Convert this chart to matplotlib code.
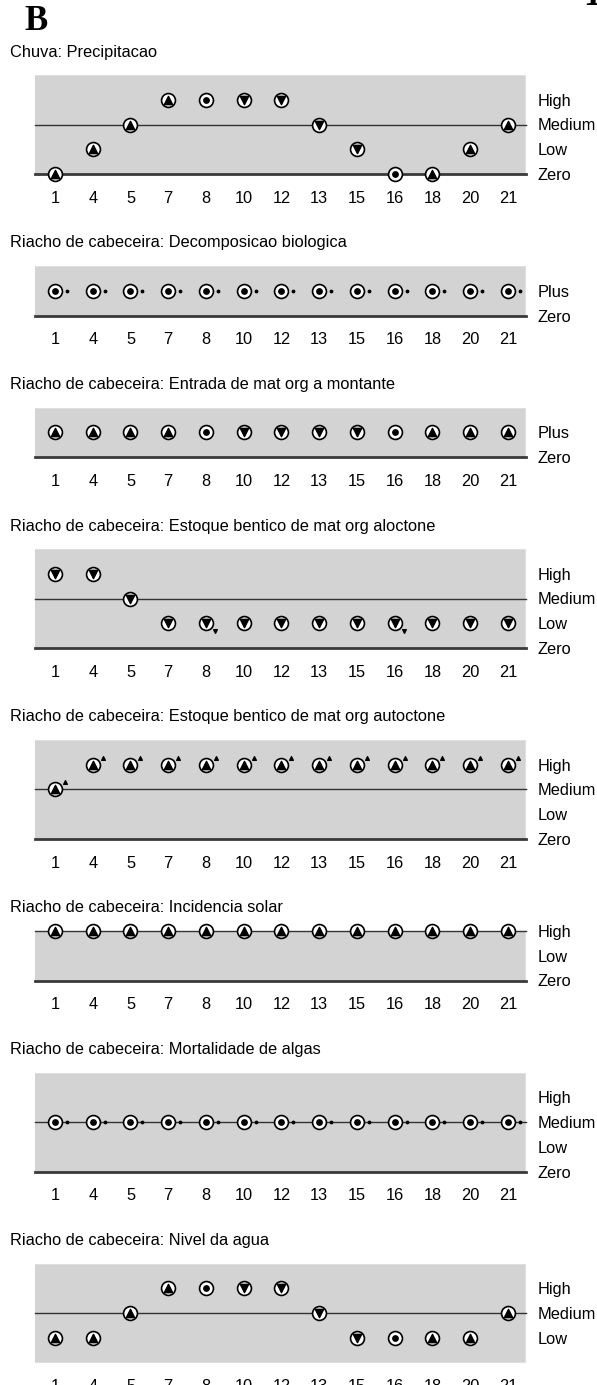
import matplotlib
matplotlib.use('Agg')
import matplotlib.pyplot as plt
from matplotlib.transforms import offset_copy

plt.rcParams['font.family'] = ['Liberation Sans', 'DejaVu Sans']

# estados da simulacao (eixo x)
states = ['1', '4', '5', '7', '8', '10', '12', '13', '15', '16', '18', '20', '21']

# espacos de quantidade (de baixo para cima)
qs_zlmh = ['Zero', 'Low', 'Medium', 'High']
qs_plus = ['Zero', 'Plus']
qs_zlh = ['Zero', 'Low', 'High']
qs_lmh = ['Low', 'Medium', 'High']

# Chuva: Precipitacao
chuva_val = ['Zero', 'Low', 'Medium', 'High', 'High', 'High', 'High',
             'Medium', 'Low', 'Zero', 'Zero', 'Low', 'Medium']
chuva_der = ['+', '+', '+', '+', '0', '-', '-', '-', '-', '0', '+', '+', '+']
chuva_d2 = ['', '', '', '', '', '', '', '', '', '', '', '', '']

# Decomposicao biologica
decomp_val = ['Plus', 'Plus', 'Plus', 'Plus', 'Plus', 'Plus', 'Plus',
              'Plus', 'Plus', 'Plus', 'Plus', 'Plus', 'Plus']
decomp_der = ['0', '0', '0', '0', '0', '0', '0', '0', '0', '0', '0', '0', '0']
decomp_d2 = ['0', '0', '0', '0', '0', '0', '0', '0', '0', '0', '0', '0', '0']

# Entrada de mat org a montante
entrada_val = ['Plus', 'Plus', 'Plus', 'Plus', 'Plus', 'Plus', 'Plus',
               'Plus', 'Plus', 'Plus', 'Plus', 'Plus', 'Plus']
entrada_der = ['+', '+', '+', '+', '0', '-', '-', '-', '-', '0', '+', '+', '+']
entrada_d2 = ['', '', '', '', '', '', '', '', '', '', '', '', '']

# Estoque bentico de mat org aloctone
aloc_val = ['High', 'High', 'Medium', 'Low', 'Low', 'Low', 'Low',
            'Low', 'Low', 'Low', 'Low', 'Low', 'Low']
aloc_der = ['-', '-', '-', '-', '-', '-', '-', '-', '-', '-', '-', '-', '-']
aloc_d2 = ['', '', '', '', '-', '', '', '', '', '-', '', '', '']

# Estoque bentico de mat org autoctone
auto_val = ['Medium', 'High', 'High', 'High', 'High', 'High', 'High',
            'High', 'High', 'High', 'High', 'High', 'High']
auto_der = ['+', '+', '+', '+', '+', '+', '+', '+', '+', '+', '+', '+', '+']
auto_d2 = ['+', '+', '+', '+', '+', '+', '+', '+', '+', '+', '+', '+', '+']

# Incidencia solar
solar_val = ['High', 'High', 'High', 'High', 'High', 'High', 'High',
             'High', 'High', 'High', 'High', 'High', 'High']
solar_der = ['+', '+', '+', '+', '+', '+', '+', '+', '+', '+', '+', '+', '+']
solar_d2 = ['', '', '', '', '', '', '', '', '', '', '', '', '']

# Mortalidade de algas
mort_val = ['Medium', 'Medium', 'Medium', 'Medium', 'Medium', 'Medium', 'Medium',
            'Medium', 'Medium', 'Medium', 'Medium', 'Medium', 'Medium']
mort_der = ['0', '0', '0', '0', '0', '0', '0', '0', '0', '0', '0', '0', '0']
mort_d2 = ['0', '0', '0', '0', '0', '0', '0', '0', '0', '0', '0', '0', '0']

# Nivel da agua
nivel_val = ['Low', 'Low', 'Medium', 'High', 'High', 'High', 'High',
             'Medium', 'Low', 'Low', 'Low', 'Low', 'Medium']
nivel_der = ['+', '+', '+', '+', '0', '-', '-', '-', '-', '0', '+', '+', '+']
nivel_d2 = ['', '', '', '', '', '', '', '', '', '', '', '', '']

panels = [
    ('Chuva: Precipitacao', qs_zlmh, ['Zero', 'Medium'], chuva_val, chuva_der, chuva_d2),
    ('Riacho de cabeceira: Decomposicao biologica', qs_plus, ['Zero'], decomp_val, decomp_der, decomp_d2),
    ('Riacho de cabeceira: Entrada de mat org a montante', qs_plus, ['Zero'], entrada_val, entrada_der, entrada_d2),
    ('Riacho de cabeceira: Estoque bentico de mat org aloctone', qs_zlmh, ['Zero', 'Medium'], aloc_val, aloc_der, aloc_d2),
    ('Riacho de cabeceira: Estoque bentico de mat org autoctone', qs_zlmh, ['Zero', 'Medium'], auto_val, auto_der, auto_d2),
    ('Riacho de cabeceira: Incidencia solar', qs_zlh, ['Zero', 'High'], solar_val, solar_der, solar_d2),
    ('Riacho de cabeceira: Mortalidade de algas', qs_zlmh, ['Zero', 'Medium'], mort_val, mort_der, mort_d2),
    ('Riacho de cabeceira: Nivel da agua', qs_lmh, ['Medium'], nivel_val, nivel_der, nivel_d2),
]

W, H = 597, 1385
fs = 11.8
fig = plt.figure(figsize=(W / 100, H / 100), dpi=100)

fig.text(36 / W, 1 - 21 / H, 'B', family='Liberation Serif', weight='bold',
         fontsize=25, ha='center', va='center')
fig.text(592 / W, 1 - 5 / H, '1', family='Liberation Serif', weight='bold',
         fontsize=25, ha='center', va='baseline')

u = 24.75          # pixels por meio-nivel
x0, x1 = 35, 526   # caixa cinza
y_top = 75
xl = (-0.53, 12.48)

for title, qs, pts, vals, der, d2 in panels:
    off = 0 if qs[0] in pts else 1
    ylev = {q: i + off for i, q in enumerate(qs)}
    top = ylev[qs[-1]] + (0 if qs[-1] in pts else 1)
    h = top * u

    ax = fig.add_axes([x0 / W, 1 - (y_top + h) / H, (x1 - x0) / W, h / H])
    ax.set_xlim(*xl)
    ax.set_ylim(0, top)
    ax.set_facecolor('#d3d3d3')
    for s in ax.spines.values():
        s.set_visible(False)

    # bordas claras da caixa
    ax.axhline(top, color='#e2e2e2', lw=1.2, zorder=1)
    ax.axvline(xl[1], color='#e2e2e2', lw=1.2, zorder=1)
    if qs[0] not in pts:
        ax.axhline(0, color='#e2e2e2', lw=1.2, zorder=1)

    # linhas dos valores pontuais
    for p in pts:
        if ylev[p] == 0:
            ax.axhline(0, color='#3a3a3a', lw=2.0, zorder=2, clip_on=False)
        else:
            ax.axhline(ylev[p], color='#333333', lw=1.0, zorder=2, clip_on=False)

    xs = list(range(len(states)))
    ys = [ylev[v] for v in vals]
    ax.scatter(xs, ys, s=100, facecolor='white', edgecolor='black',
               linewidths=1.2, zorder=3, clip_on=False)

    for sign, mk, sz in [('+', '^', 36), ('-', 'v', 36), ('0', 'o', 15)]:
        sx = [x for x, d in zip(xs, der) if d == sign]
        sy = [y for y, d in zip(ys, der) if d == sign]
        if sx:
            ax.scatter(sx, sy, s=sz, marker=mk, color='black', zorder=4, clip_on=False)

    # segunda derivada
    tr_up = offset_copy(ax.transData, fig=fig, x=10, y=7, units='dots')
    tr_dn = offset_copy(ax.transData, fig=fig, x=9, y=-8, units='dots')
    tr_0 = offset_copy(ax.transData, fig=fig, x=12, y=0, units='dots')
    for sign, mk, sz, tr in [('+', '^', 7, tr_up), ('-', 'v', 7, tr_dn), ('0', 'o', 3, tr_0)]:
        sx = [x for x, d in zip(xs, d2) if d == sign]
        sy = [y for y, d in zip(ys, d2) if d == sign]
        if sx:
            ax.scatter(sx, sy, s=sz, marker=mk, color='black', zorder=4,
                       clip_on=False, transform=tr)

    ax.set_xticks(xs, states)
    ax.tick_params(axis='x', length=0, pad=12.2, labelsize=fs)
    ax.yaxis.tick_right()
    ax.set_yticks([ylev[q] for q in qs], qs)
    ax.tick_params(axis='y', length=0, pad=8.6, labelsize=fs)

    fig.text(10 / W, 1 - (y_top - 23) / H, title, fontsize=fs, va='center')

    y_top += h + 92

fig.savefig('out.png', dpi=100)
